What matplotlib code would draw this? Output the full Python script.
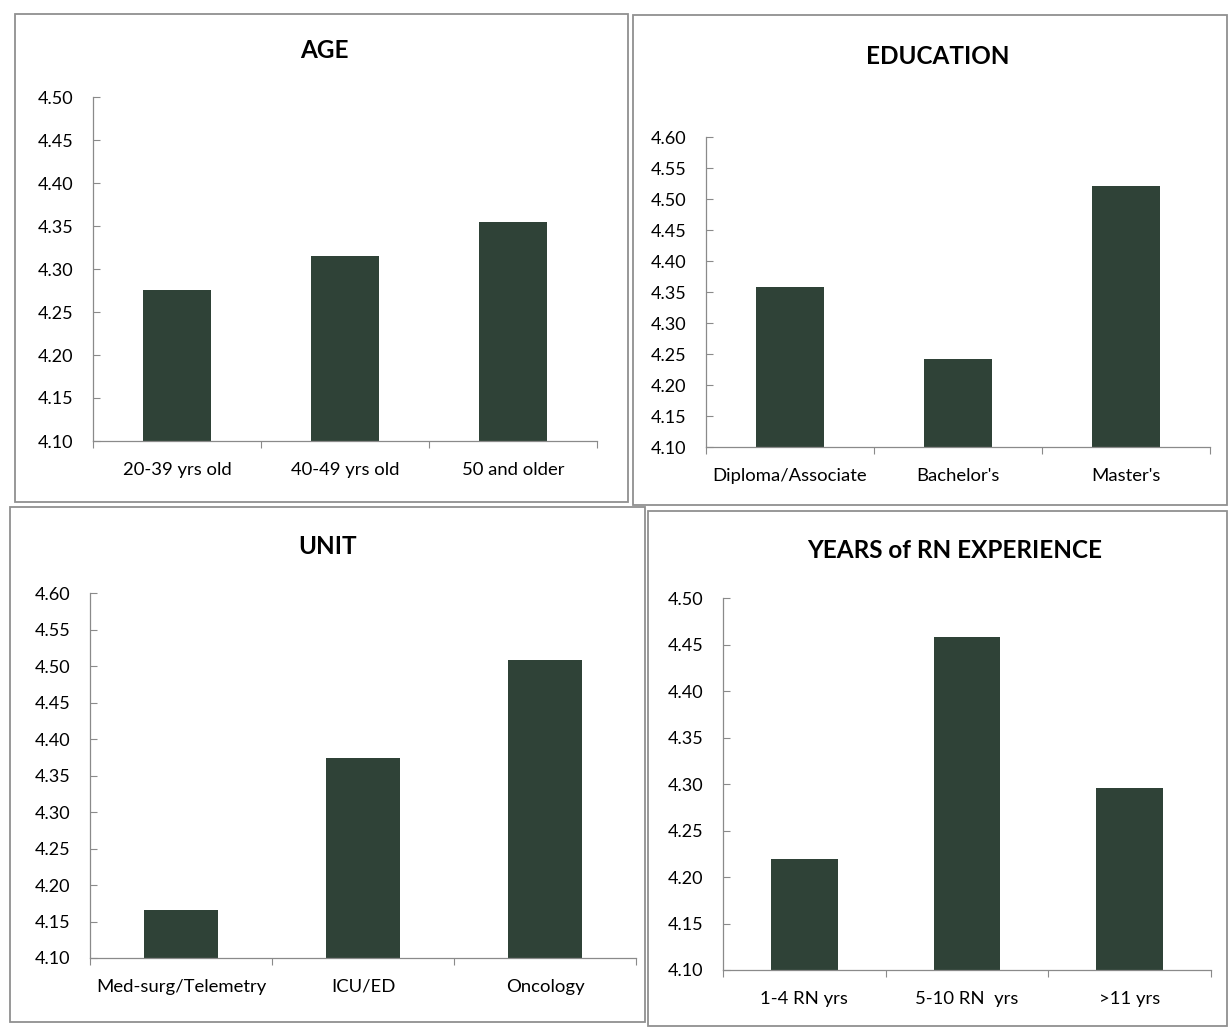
import matplotlib
matplotlib.use("Agg")
import matplotlib.pyplot as plt
from matplotlib.patches import Rectangle
import numpy as np

plt.rcParams['font.family'] = ['Lato', 'DejaVu Sans']

# data
age_labels = ["20-39 yrs old", "40-49 yrs old", "50 and older"]
age_values = [4.275, 4.315, 4.355]

edu_labels = ["Diploma/Associate", "Bachelor's", "Master's"]
edu_values = [4.358, 4.242, 4.521]

unit_labels = ["Med-surg/Telemetry", "ICU/ED", "Oncology"]
unit_values = [4.166, 4.374, 4.508]

years_labels = ["1-4 RN yrs", "5-10 RN  yrs", ">11 yrs"]
years_values = [4.219, 4.458, 4.296]

W, H = 1228, 1027
BAR = '#2f4237'
EDGE = '#8a8a8a'

fig = plt.figure(figsize=(W / 100, H / 100), dpi=100)
fig.patch.set_facecolor('white')


def px_axes(left, top, right, bottom):
    return fig.add_axes([left / W, 1 - bottom / H, (right - left) / W, (bottom - top) / H])


def box(left, top, right, bottom):
    fig.patches.append(Rectangle((left / W, 1 - bottom / H), (right - left) / W, (bottom - top) / H,
                                 transform=fig.transFigure, fill=False, edgecolor='#909090', lw=1.3))


def panel(ax, labels, values, ymax, title, title_xy):
    x = np.arange(len(values))
    ax.bar(x, np.array(values) - 4.10, bottom=4.10, width=0.41, color=BAR, zorder=2)
    ax.set_xlim(-0.5, len(values) - 0.5)
    ax.set_ylim(4.10, ymax)
    ax.set_yticks(np.arange(4.10, ymax + 0.001, 0.05))
    ax.set_yticklabels(["%.2f" % v for v in np.arange(4.10, ymax + 0.001, 0.05)])
    ax.set_xticks(np.arange(-0.5, len(values)), minor=False)
    ax.set_xticklabels([])
    ax.set_xticks(x, minor=True)
    ax.set_xticklabels(labels, minor=True)
    ax.tick_params(axis='x', which='major', direction='out', length=5, width=0.8, color=EDGE)
    ax.tick_params(axis='x', which='minor', length=0, pad=15, labelsize=13.3)
    ax.tick_params(axis='y', direction='in', length=5, width=0.8, color=EDGE, pad=14, labelsize=13)
    for s in ('top', 'right'):
        ax.spines[s].set_visible(False)
    for s in ('left', 'bottom'):
        ax.spines[s].set_color(EDGE)
        ax.spines[s].set_linewidth(0.9)
    fig.text(title_xy[0] / W, 1 - title_xy[1] / H, title, ha='center', va='center',
             fontsize=17.5, fontweight='bold')


box(15, 14, 628, 502)
box(633, 15, 1227, 505)
box(10, 507, 645, 1022)
box(648, 511, 1227, 1026)

panel(px_axes(93, 97, 597, 441), age_labels, age_values, 4.50, "AGE", (324, 50))
panel(px_axes(706, 137, 1210, 447), edu_labels, edu_values, 4.60, "EDUCATION", (938, 56))
panel(px_axes(90, 593, 636, 958), unit_labels, unit_values, 4.60, "UNIT", (328, 546))
panel(px_axes(723, 598, 1211, 970), years_labels, years_values, 4.50, "YEARS of RN EXPERIENCE", (955, 550))

fig.savefig("out.png", dpi=100, facecolor='white')
